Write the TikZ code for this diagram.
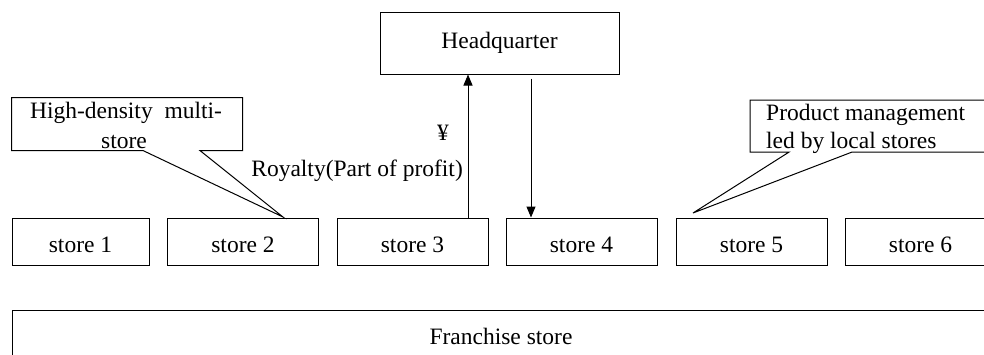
\documentclass[tikz,border=0pt]{standalone}
\usepackage{fontspec}
\setmainfont{Liberation Serif}
\usetikzlibrary{arrows.meta,shapes.callouts}
\begin{document}
\begin{tikzpicture}[x=1pt,y=-1pt,
  every node/.style={font=\fontsize{23.5}{28}\selectfont},
  box/.style={draw,line width=1pt,inner sep=0pt},
  storebox/.style={box,minimum width=151pt,minimum height=47pt,text height=21pt,text depth=0pt},
  callbox/.style={rectangle callout,draw,line width=1pt,fill=white,inner sep=0pt},
  arr/.style={line width=1pt,-{Triangle[length=11pt,width=9pt]}},
  lbl/.style={inner sep=0pt}]
\useasboundingbox (0,0) rectangle (984,354);
\clip (0,0) rectangle (984,354);
% headquarter
\node[box,minimum width=239pt,minimum height=62pt] (hq) at (499.5,43) {Headquarter};
% stores
\node[storebox,minimum width=137pt] (s1) at (80.5,241.5) {store 1};
\node[storebox] (s2) at (243,241.5) {store 2};
\node[storebox] (s3) at (412.5,241.5) {store 3};
\node[storebox] (s4) at (581.5,241.5) {store 4};
\node[storebox] (s5) at (751.5,241.5) {store 5};
\node[storebox] (s6) at (920.5,241.5) {store 6};
% franchise
\node[box,minimum width=990pt,minimum height=90pt] (fr) at (507,355) {};
\node[lbl] (frt) at (501,336) {Franchise store};
% arrows
\draw[arr] ([xshift=55.5pt]s3.north) -- ([xshift=-31.5pt]hq.south);
\draw[arr] ([xshift=31.5pt,yshift=-4pt]hq.south) -- ([xshift=-50.5pt]s4.north);
\node[lbl] (yen) at (443,133) {¥};
\node[lbl,anchor=base east] (roy) at (463,176) {Royalty(Part of profit)};
% callouts
\coordinate (t1) at (283,217);
\coordinate (t2) at (693,213);
\node[callbox,minimum width=231pt,minimum height=53pt,callout pointer width=57pt,
  callout absolute pointer={(t1)}] (c1) at (127,124) {};
\node[lbl,anchor=base] (c1a) at (126,118) {High-density\ \ multi-};
\node[lbl,anchor=base] (c1b) at (124,148) {store};
\node[callbox,minimum width=250pt,minimum height=52pt,callout pointer width=63pt,
  callout absolute pointer={(t2)}] (c2) at (875,126) {};
\node[lbl,anchor=base west] (c2a) at (766,120) {Product management};
\node[lbl,anchor=base west] (c2b) at (766,148) {led by local stores};
\end{tikzpicture}
\end{document}
